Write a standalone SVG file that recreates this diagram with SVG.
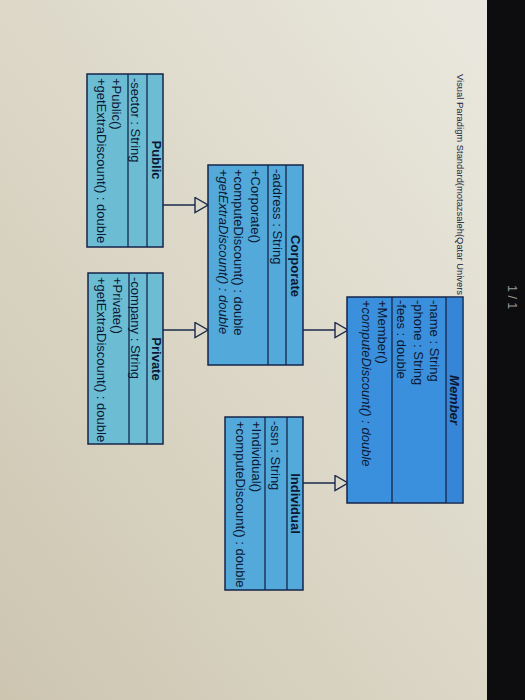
<svg xmlns="http://www.w3.org/2000/svg" width="525" height="700" viewBox="0 0 525 700">
<defs>
<linearGradient id="bg" x1="1" y1="0" x2="0" y2="1">
<stop offset="0" stop-color="#ebe9e0"/>
<stop offset="0.45" stop-color="#dedacb"/>
<stop offset="1" stop-color="#cdc5b0"/>
</linearGradient>
<marker id="tri" viewBox="0 0 15 17" refX="14" refY="8.5" markerWidth="15" markerHeight="17" markerUnits="userSpaceOnUse" orient="auto">
<path d="M1,1 L14,8.5 L1,16 Z" fill="#dcd8ca" stroke="#1b2a4a" stroke-width="1.4"/>
</marker>
</defs>
<style>
.box{stroke:#16254a;stroke-width:1.5}
.div{stroke:#16254a;stroke-width:1.3}
.t{font-family:"Liberation Sans",Arial,sans-serif;font-size:13px;fill:#0c1833}
.h{font-weight:bold;text-anchor:middle}
.i{font-style:italic}
.conn{stroke:#1b2a4a;stroke-width:1.4;fill:none}
.member{fill:#3a90dc}
.mid{fill:#52a9da}
.light{fill:#6cbdd3}
</style>
<rect x="0" y="0" width="525" height="700" fill="url(#bg)"/>
<rect x="487" y="0" width="38" height="700" fill="#0d0d10"/>
<text transform="translate(507.5,285) rotate(90)" style="font-family:'Liberation Sans',Arial,sans-serif;font-size:12.5px;fill:#9a9a9a">1 / 1</text>
<text transform="translate(456.5,74) rotate(90)" textLength="221" lengthAdjust="spacingAndGlyphs" style="font-family:'Liberation Sans',Arial,sans-serif;font-size:9.5px;fill:#15213a">Visual Paradigm Standard(motazsaleh(Qatar Univers</text>

<g id="connectors">
<path class="conn" d="M163,205 H208" marker-end="url(#tri)"/>
<path class="conn" d="M163,330 H208" marker-end="url(#tri)"/>
<path class="conn" d="M303,330 H348" marker-end="url(#tri)"/>
<path class="conn" d="M303,483 H348" marker-end="url(#tri)"/>
</g>

<g id="Member" transform="translate(463,297) rotate(90)">
<rect class="box member" x="0" y="0" width="206" height="116"/>
<rect x="0.8" y="0.8" width="204.4" height="16.2" fill="#3685d6"/>
<line class="div" x1="0" y1="17" x2="206" y2="17"/>
<line class="div" x1="0" y1="71" x2="206" y2="71"/>
<text class="t h i" x="103" y="13.5">Member</text>
<text class="t" x="3" y="33.5">-name : String</text>
<text class="t" x="3" y="49.5">-phone : String</text>
<text class="t" x="3" y="66">-fees : double</text>
<text class="t" x="3" y="85.5">+Member()</text>
<text class="t i" x="3" y="101.5">+computeDiscount() : double</text>
</g>

<g id="Corporate" transform="translate(303,165) rotate(90)">
<rect class="box mid" x="0" y="0" width="200" height="95"/>
<line class="div" x1="0" y1="17" x2="200" y2="17"/>
<line class="div" x1="0" y1="35" x2="200" y2="35"/>
<text class="t h" x="101" y="12.5">Corporate</text>
<text class="t" x="4" y="30.5">-address : String</text>
<text class="t" x="4" y="52.5">+Corporate()</text>
<text class="t" x="4" y="69.5">+computeDiscount() : double</text>
<text class="t i" x="4" y="84.5">+getExtraDiscount() : double</text>
</g>

<g id="Individual" transform="translate(303,417) rotate(90)">
<rect class="box mid" x="0" y="0" width="173" height="78"/>
<line class="div" x1="0" y1="16" x2="173" y2="16"/>
<line class="div" x1="0" y1="38" x2="173" y2="38"/>
<text class="t h" x="86.5" y="12.5">Individual</text>
<text class="t" x="4" y="32">-ssn : String</text>
<text class="t" x="4" y="51.5">+Individual()</text>
<text class="t" x="4" y="67.5">+computeDiscount() : double</text>
</g>

<g id="Public" transform="translate(163,74) rotate(90)">
<rect class="box light" x="0" y="0" width="173" height="76"/>
<line class="div" x1="0" y1="16" x2="173" y2="16"/>
<line class="div" x1="0" y1="35" x2="173" y2="35"/>
<text class="t h" x="86" y="11.5">Public</text>
<text class="t" x="4" y="32">-sector : String</text>
<text class="t" x="4" y="51">+Public()</text>
<text class="t" x="4" y="66.5">+getExtraDiscount() : double</text>
</g>

<g id="Private" transform="translate(163,273) rotate(90)">
<rect class="box light" x="0" y="0" width="171" height="75"/>
<line class="div" x1="0" y1="16" x2="171" y2="16"/>
<line class="div" x1="0" y1="34" x2="171" y2="34"/>
<text class="t h" x="86" y="11.5">Private</text>
<text class="t" x="4" y="32">-company : String</text>
<text class="t" x="4" y="50.5">+Private()</text>
<text class="t" x="4" y="66">+getExtraDiscount() : double</text>
</g>
</svg>
